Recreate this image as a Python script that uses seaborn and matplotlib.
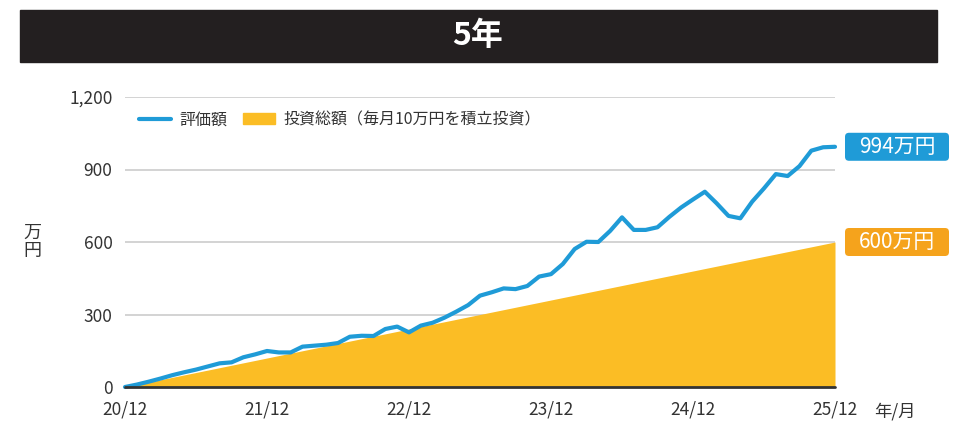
import matplotlib
matplotlib.use('Agg')
import matplotlib.pyplot as plt
import matplotlib.transforms as mtransforms
from matplotlib.patches import Rectangle, Patch, FancyBboxPatch
import seaborn as sns
import pandas as pd

# monthly values, 20/12 .. 25/12 (61 points), in 万円
valuation = [0, 10, 22, 35, 49, 61, 72, 85, 98, 102, 123, 135, 149,
             143, 143, 167, 171, 175, 182, 208, 212, 211, 240, 250, 226,
             254, 266, 287, 312, 339, 378, 392, 408, 405, 418, 457, 467,
             509, 571, 601, 600, 646, 702, 650, 650, 661, 704, 743, 776,
             808, 760, 708, 698, 767, 822, 881, 873, 914, 978, 992, 994]
invested = [10 * m for m in range(61)]
tick_labels = ['20/12', '21/12', '22/12', '23/12', '24/12', '25/12']
y_ticks = [0, 300, 600, 900, 1200]

df = pd.DataFrame({'month': range(61), 'valuation': valuation, 'invested': invested})

sns.set_style('white')
plt.rcParams['font.family'] = ['Noto Sans CJK JP', 'DejaVu Sans']

blue = '#1f9bd7'
gold = '#fbbd25'
orange = '#f5a31c'
text_c = '#333333'

fig = plt.figure(figsize=(9.57, 4.24), dpi=100)
ax = fig.add_axes([125 / 957, 37 / 424, 710 / 957, 290 / 424])

# title bar
fig.patches.append(Rectangle((20 / 957, 362 / 424), 917 / 957, 52 / 424,
                             transform=fig.transFigure, color='#231f20', zorder=0))
fig.text(478 / 957, 388 / 424, '5年', color='white', fontsize=23, fontweight='bold',
         ha='center', va='center')

ax.fill_between(df['month'], 0, df['invested'], color=gold, lw=0, zorder=2)
sns.lineplot(data=df, x='month', y='valuation', color=blue, lw=3, ax=ax, zorder=3,
             solid_capstyle='round', solid_joinstyle='round', clip_on=False)

ax.set_xlim(0, 60)
ax.set_ylim(0, 1200)
ax.set_yticks(y_ticks)
ax.set_yticklabels([f'{v:,}' for v in y_ticks])
ax.set_xticks(range(0, 61, 12))
ax.set_xticklabels(tick_labels)
ax.grid(axis='y', color='#cccccc', lw=1.2)
ax.set_axisbelow(True)
for s in ax.spines.values():
    s.set_visible(False)
ax.axhline(0, color='#333333', lw=2, zorder=4, clip_on=False)
ax.tick_params(axis='y', length=5, color='#bbbbbb', labelsize=12.5, labelcolor=text_c, pad=4)
ax.tick_params(axis='x', length=0, labelsize=12.5, labelcolor=text_c, pad=10)
ax.set_xlabel('')
ax.set_ylabel('万\n円', rotation=0, fontsize=13, color=text_c,
              va='center', linespacing=1.0)
ax.yaxis.set_label_coords(-0.13, 0.5)
ax.text(1.085, -0.085, '年/月', transform=ax.transAxes, fontsize=12.5, color=text_c,
        ha='center', va='center')

# legend
handles = [plt.Line2D([0], [0], color=blue, lw=3),
           Patch(color=gold)]
ax.legend(handles, ['評価額', '投資総額（毎月10万円を積立投資）'], loc='upper left',
          bbox_to_anchor=(0.0, 1.0), ncol=2, frameon=False, fontsize=11.5,
          handlelength=2.0, handletextpad=0.5, columnspacing=1.0,
          labelcolor=text_c)

# end labels: rounded boxes in pixel space, centred on the end values
trans = mtransforms.blended_transform_factory(ax.transAxes, ax.transData)
for val, col in [(valuation[-1], blue), (invested[-1], orange)]:
    cy = ax.transData.transform((60, val))[1]
    box = FancyBboxPatch((845, cy - 14), 104, 28,
                         boxstyle='round,pad=0,rounding_size=4',
                         transform=mtransforms.IdentityTransform(),
                         fc=col, ec='none', clip_on=False)
    fig.patches.append(box)
    fig.text(897 / 957, cy / 424, f'{val}万円', color='white', fontsize=15,
             ha='center', va='center')

fig.savefig('out.png', dpi=100)
